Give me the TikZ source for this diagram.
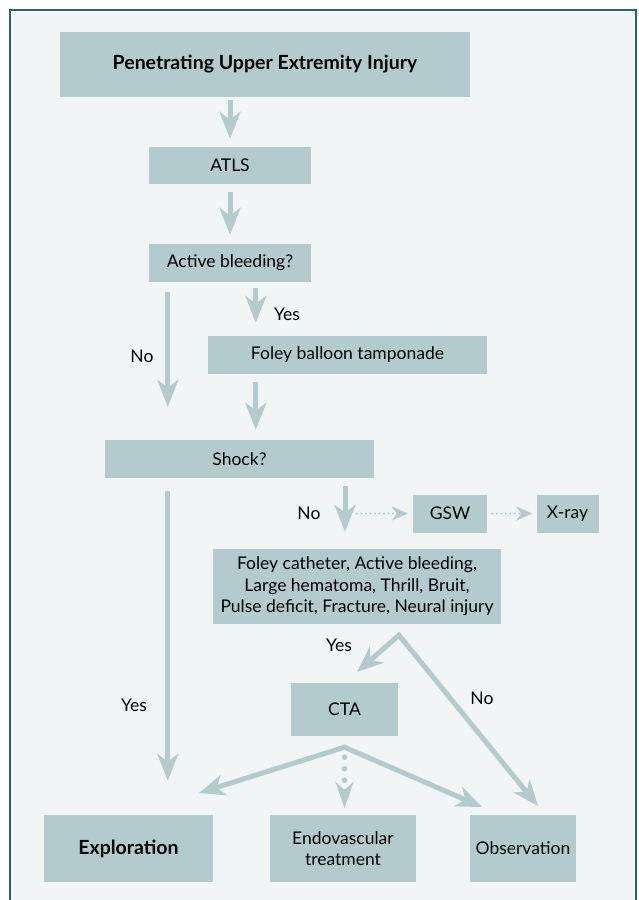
\documentclass[tikz,border=0pt]{standalone}
\usepackage{fontspec}
\setmainfont{Lato}
\usetikzlibrary{arrows.meta}
\definecolor{boxc}{HTML}{B3CBCD}
\definecolor{bgc}{HTML}{F1F5F6}
\definecolor{framec}{HTML}{2A6464}
\begin{document}
\begin{tikzpicture}[x=1pt,y=-1pt,
  box/.style={fill=boxc, inner sep=2pt, align=center, text=black,
    font=\fontsize{17.5}{21.5}\selectfont},
  boldbox/.style={box, font=\bfseries\fontsize{19.5}{23}\selectfont},
  lbl/.style={inner sep=0pt, text=black, font=\fontsize{17.5}{21.5}\selectfont},
  big/.style={line width=5pt, draw=boxc, -{Stealth[length=27pt,width=21pt,inset=8pt]}},
  bigtwo/.style={line width=5pt, draw=boxc, line join=miter,
    {Stealth[length=26pt,width=21pt,inset=8pt]}-{Stealth[length=26pt,width=21pt,inset=8pt]}},
  dotarrow/.style={line width=2.2pt, draw=boxc, line cap=round, dash pattern=on 0pt off 4.5pt,
    -{Stealth[length=16pt,width=14pt,inset=5pt]}},
  bigdot/.style={line width=5.5pt, draw=boxc, line cap=round, dash pattern=on 0pt off 11.5pt,
    -{Stealth[length=26pt,width=18pt,inset=8pt]}}
]
\useasboundingbox (0,0) rectangle (638,900);
\fill[white] (0,0) rectangle (638,900);
\draw[framec, line width=1.5pt, fill=bgc] (10,10) rectangle (636,930);

% boxes
\node[boldbox, minimum width=410pt, minimum height=65pt] (inj) at (265,64.5) {Penetrating Upper Extremity Injury};
\node[box, minimum width=162pt, minimum height=37pt] (atls) at (230,165.5) {ATLS};
\node[box, minimum width=162pt, minimum height=38pt] (active) at (230,263) {Active bleeding?};
\node[box, minimum width=279pt, minimum height=38pt] (foley) at (347.5,355) {Foley balloon tamponade};
\node[box, minimum width=269pt, minimum height=38pt] (shock) at (239.5,459) {Shock?};
\node[box, minimum width=74pt, minimum height=38pt] (gsw) at (450,513.5) {GSW};
\node[box, minimum width=62pt, minimum height=38pt] (xray) at (567.5,513.5) {X-ray};
\node[box, minimum width=288pt, minimum height=75pt] (cath) at (357,586.5) {Foley catheter, Active bleeding,\\Large hematoma, Thrill, Bruit,\\Pulse deficit, Fracture, Neural injury};
\node[box, minimum width=107pt, minimum height=53pt] (cta) at (344.5,709.5) {CTA};
\node[boldbox, minimum width=169pt, minimum height=67pt] (expl) at (128.5,848.5) {Exploration};
\node[box, minimum width=146pt, minimum height=67pt] (endo) at (343,848.5) {Endovascular\\treatment};
\node[box, minimum width=106pt, minimum height=67pt] (obs) at (523,848.5) {Observation};

% labels
\node[lbl] (lno1) at (142,356) {No};
\node[lbl] (lyes1) at (287,314) {Yes};
\node[lbl] (lyes2) at (134,705) {Yes};
\node[lbl] (lno2) at (309,513) {No};
\node[lbl] (lyes3) at (339,645) {Yes};
\node[lbl] (lno3) at (482,698) {No};

% helper coordinates
\coordinate (cx0) at ([xshift=19pt]active.south west);
\coordinate (cx1) at ([xshift=107pt]active.south west);
\coordinate (cx2) at ([xshift=-12pt]cath.north);
\coordinate (d0) at (357,513.5);
\coordinate (apex) at ([xshift=42pt,yshift=-11pt]cath.south);
\coordinate (yt) at (357,672);
\coordinate (nt) at (538,806);
\coordinate (apex2) at ([yshift=-11pt]cta.south);
\coordinate (lt) at (199,793);
\coordinate (rt) at (482,807);
\coordinate (dt) at (344.5,808);

% connectors
\draw[big, shorten <=3pt, shorten >=8pt] (inj.south -| atls.north) -- (atls.north);
\draw[big, shorten <=8pt, shorten >=9pt] (atls.south) -- (active.north);
\draw[big, shorten <=10pt, shorten >=33pt] (cx0) -- (cx0 |- shock.north);
\draw[big, shorten <=6pt, shorten >=13pt] (cx1) -- (cx1 |- foley.north);
\draw[big, shorten <=8pt, shorten >=10pt] (cx1 |- foley.south) -- (cx1 |- shock.north);
\draw[big, shorten <=13pt, shorten >=34pt] (cx0 |- shock.south) -- (cx0 |- expl.north);
\draw[big, shorten <=8pt, shorten >=17pt] (cx2 |- shock.south) -- (cx2);
\draw[dotarrow, shorten >=5pt] (d0) -- (gsw.west);
\draw[dotarrow, shorten <=5pt, shorten >=4pt] (gsw) -- (xray);
\draw[bigtwo] (yt) -- (apex) -- (nt);
\draw[bigtwo] (lt) -- (apex2) -- (rt);
\draw[bigdot] ([yshift=-10pt]apex2) -- (dt);
\end{tikzpicture}
\end{document}
